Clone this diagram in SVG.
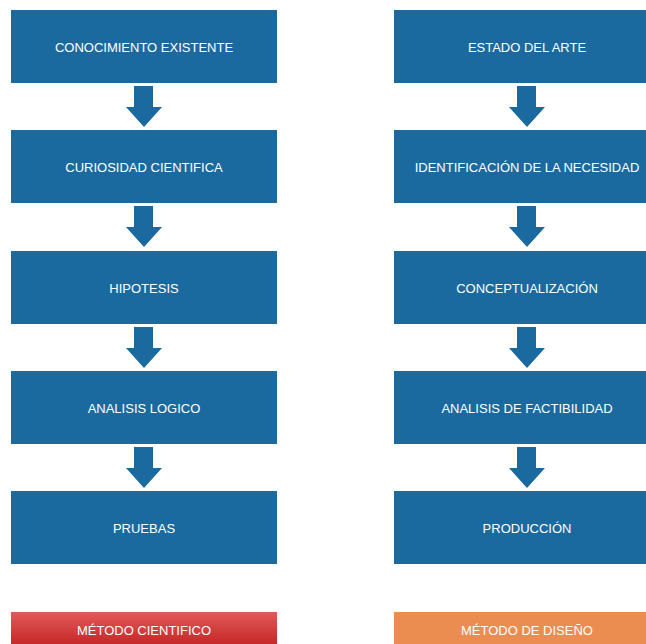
<svg xmlns="http://www.w3.org/2000/svg" width="646" height="644" viewBox="0 0 646 644">
  <defs>
    <style>
      .box { fill: #1A6AA0; }
      .arrow { fill: #1A6AA0; }
      .label { font-family: "Liberation Sans", Arial, sans-serif; font-size: 13px; fill: #FFFFFF; text-anchor: middle; }
    </style>
    <linearGradient id="redFill" x1="0" y1="0" x2="0" y2="1">
      <stop offset="0" stop-color="#E25A5A"/>
      <stop offset="1" stop-color="#C62828"/>
    </linearGradient>
    <path id="downArrow" d="M-10,0 H9 V21 H18 L0,41 L-18,21 H-10 Z"/>
  </defs>

  <rect width="646" height="644" fill="#FFFFFF"/>

  <!-- Connectors: block arrows between steps -->
  <g id="connectors" class="arrow">
    <use href="#downArrow" x="144" y="86"/>
    <use href="#downArrow" x="144" y="206"/>
    <use href="#downArrow" x="144" y="327"/>
    <use href="#downArrow" x="144" y="447"/>
    <use href="#downArrow" x="527" y="86"/>
    <use href="#downArrow" x="527" y="206"/>
    <use href="#downArrow" x="527" y="327"/>
    <use href="#downArrow" x="527" y="447"/>
  </g>

  <!-- Scientific method column -->
  <g id="conocimiento-existente">
    <rect class="box" x="11" y="10" width="266" height="73"/>
    <text class="label" x="144" y="51.5">CONOCIMIENTO EXISTENTE</text>
  </g>
  <g id="curiosidad-cientifica">
    <rect class="box" x="11" y="130" width="266" height="73"/>
    <text class="label" x="144" y="171.5">CURIOSIDAD CIENTIFICA</text>
  </g>
  <g id="hipotesis">
    <rect class="box" x="11" y="251" width="266" height="73"/>
    <text class="label" x="144" y="292.5">HIPOTESIS</text>
  </g>
  <g id="analisis-logico">
    <rect class="box" x="11" y="371" width="266" height="73"/>
    <text class="label" x="144" y="412.5">ANALISIS LOGICO</text>
  </g>
  <g id="pruebas">
    <rect class="box" x="11" y="491" width="266" height="73"/>
    <text class="label" x="144" y="532.5">PRUEBAS</text>
  </g>
  <g id="metodo-cientifico">
    <rect x="11" y="612" width="266" height="32" fill="url(#redFill)"/>
    <text class="label" x="144" y="635">MÉTODO CIENTIFICO</text>
  </g>

  <!-- Design method column -->
  <g id="estado-del-arte">
    <rect class="box" x="394" y="10" width="266" height="73"/>
    <text class="label" x="527" y="51.5">ESTADO DEL ARTE</text>
  </g>
  <g id="identificacion-necesidad">
    <rect class="box" x="394" y="130" width="266" height="73"/>
    <text class="label" x="527" y="171.5">IDENTIFICACIÓN DE LA NECESIDAD</text>
  </g>
  <g id="conceptualizacion">
    <rect class="box" x="394" y="251" width="266" height="73"/>
    <text class="label" x="527" y="292.5">CONCEPTUALIZACIÓN</text>
  </g>
  <g id="analisis-factibilidad">
    <rect class="box" x="394" y="371" width="266" height="73"/>
    <text class="label" x="527" y="412.5">ANALISIS DE FACTIBILIDAD</text>
  </g>
  <g id="produccion">
    <rect class="box" x="394" y="491" width="266" height="73"/>
    <text class="label" x="527" y="532.5">PRODUCCIÓN</text>
  </g>
  <g id="metodo-diseno">
    <rect x="394" y="612" width="266" height="32" fill="#EB8C50"/>
    <text class="label" x="527" y="635">MÉTODO DE DISEÑO</text>
  </g>
</svg>
